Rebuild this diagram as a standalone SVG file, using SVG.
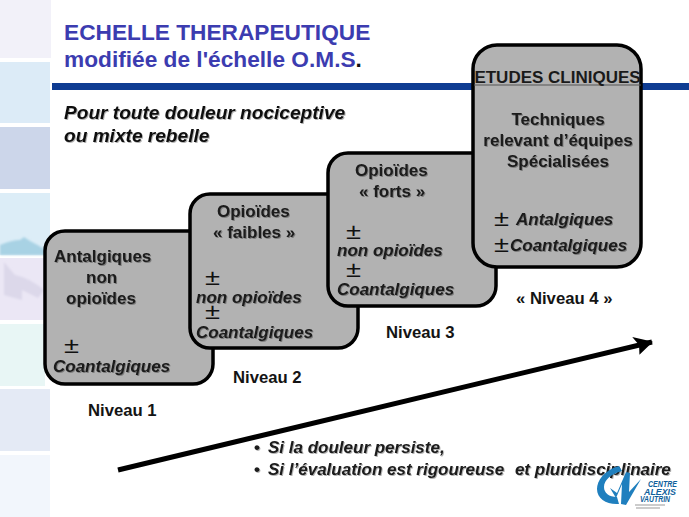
<svg xmlns="http://www.w3.org/2000/svg" width="689" height="517" viewBox="0 0 689 517">
<style>
text{font-family:"Liberation Sans",Arial,sans-serif;font-weight:bold;fill:#1a1a1a}
.box{fill:#b2b2b2;stroke:#000;stroke-width:3.5}
.t{font-size:17px;filter:url(#sh)}
.i{font-size:17px;font-style:italic;filter:url(#sh)}
.n{font-size:16.700px;fill:#141414}
.pm{font-size:22px;font-weight:normal;fill:#111}
.h{fill:#3c3cb0;font-size:22.700px}
.s{font-size:19.100px;font-style:italic;fill:#111;filter:url(#sh)}
.l{font-size:9px;font-style:italic;fill:#0f5f9c}
</style>
<defs>
<filter id="sh" x="-5%" y="-20%" width="110%" height="150%"><feDropShadow dx="1" dy="1" stdDeviation="0.5" flood-color="#000" flood-opacity="0.3"/></filter>
<filter id="blur" x="-10%" y="-10%" width="120%" height="120%"><feGaussianBlur stdDeviation="1"/></filter>
<marker id="ah" viewBox="0 0 10 10" refX="9.500" refY="5" markerWidth="3.800" markerHeight="3.800" orient="auto" markerUnits="strokeWidth" preserveAspectRatio="none"><path d="M0 0L10 5L1.500 10L2.500 5Z" fill="#000"/></marker>
</defs>
<rect width="689" height="517" fill="#fff"/>
<g id="background-strip">
<rect x="0" y="0" width="51" height="58" fill="#f2f1f9"/>
<rect x="0" y="62" width="50" height="61" fill="#dcebf7"/>
<rect x="0" y="127" width="50" height="62" fill="#ccd6ea"/>
<rect x="0" y="193" width="50" height="62" fill="#dcedf7"/>
<path d="M0 245Q12 240 20 240L24 237L30 241Q38 245 46 250L46 255L0 255Z" fill="#a8d2e4" filter="url(#blur)"/>
<rect x="0" y="258" width="45" height="62" fill="#ebe7f5"/>
<path d="M4 262L15 275Q30 278 44 290L38 298L22 290L22 300L4 295Z" fill="#dcd8ea" filter="url(#blur)"/>
<rect x="0" y="324" width="45" height="62" fill="#e8f6f5"/>
<rect x="0" y="389" width="50" height="62" fill="#e4eaf5"/>
<rect x="0" y="455" width="50" height="62" fill="#f2f6fc"/>
</g>
<rect id="title-rule" x="52" y="83" width="637" height="7" fill="#0f3c92"/>
<g id="title">
<text class="h" x="64" y="40">ECHELLE THERAPEUTIQUE</text>
<text class="h" x="64" y="67">modifiée de l'échelle O.M.S<tspan fill="#111">.</tspan></text>
</g>
<g id="subtitle">
<text class="s" x="64" y="119">Pour toute douleur nociceptive</text>
<text class="s" x="64" y="142">ou mixte rebelle</text>
</g>
<g id="connectors">
<line x1="118" y1="470" x2="652" y2="342" stroke="#000" stroke-width="5" marker-end="url(#ah)"/>
</g>
<g id="niveau-1">
<rect class="box" x="45" y="231" width="168" height="153" rx="20"/>
<text class="t" x="54" y="262">Antalgiques</text>
<text class="t" x="86" y="283">non</text>
<text class="t" x="66" y="304">opioïdes</text>
<text class="pm" x="64" y="353" textLength="15" lengthAdjust="spacingAndGlyphs">±</text>
<text class="i" x="53" y="372">Coantalgiques</text>
<text class="n" x="88" y="416">Niveau 1</text>
</g>
<g id="niveau-2">
<rect class="box" x="190" y="194" width="168" height="154" rx="20"/>
<text class="t" x="217" y="217">Opioïdes</text>
<text class="t" x="213" y="238">« faibles »</text>
<text class="pm" x="205" y="285" textLength="15" lengthAdjust="spacingAndGlyphs">±</text>
<text class="i" x="196" y="303">non opioïdes</text>
<text class="pm" x="205" y="319" textLength="15" lengthAdjust="spacingAndGlyphs">±</text>
<text class="i" x="196" y="338">Coantalgiques</text>
<text class="n" x="233" y="383">Niveau 2</text>
</g>
<g id="niveau-3">
<rect class="box" x="328" y="153" width="168" height="153" rx="20"/>
<text class="t" x="355" y="176">Opioïdes</text>
<text class="t" x="359" y="197">« forts »</text>
<text class="pm" x="346" y="239" textLength="15" lengthAdjust="spacingAndGlyphs">±</text>
<text class="i" x="337" y="256">non opioïdes</text>
<text class="pm" x="346" y="277" textLength="15" lengthAdjust="spacingAndGlyphs">±</text>
<text class="i" x="337" y="295">Coantalgiques</text>
<text class="n" x="386" y="338">Niveau 3</text>
</g>
<g id="niveau-4">
<rect class="box" x="473" y="45" width="168" height="222" rx="24"/>
<line x1="474" y1="85" x2="641" y2="85" stroke="#555" stroke-width="1"/>
<text class="t" x="557.500" y="83" text-anchor="middle" style="filter:none">ETUDES CLINIQUES</text>
<text class="t" x="558" y="125" text-anchor="middle">Techniques</text>
<text class="t" x="558" y="146" text-anchor="middle">relevant d’équipes</text>
<text class="t" x="558" y="167" text-anchor="middle">Spécialisées</text>
<text class="pm" x="494" y="226" textLength="15" lengthAdjust="spacingAndGlyphs">±</text>
<text class="i" x="516" y="225">Antalgiques</text>
<text class="pm" x="494" y="252" textLength="15" lengthAdjust="spacingAndGlyphs">±</text>
<text class="i" x="510" y="251">Coantalgiques</text>
<text class="n" x="516" y="304">« Niveau 4 »</text>
</g>
<g id="notes">
<text class="i" x="254" y="453"><tspan font-style="normal">•</tspan><tspan x="268">Si la douleur persiste,</tspan></text>
<text class="i" x="254" y="475"><tspan font-style="normal">•</tspan><tspan x="268">Si l’évaluation est rigoureuse</tspan><tspan dx="6"> et pluridisciplinaire</tspan></text>
</g>
<g id="logo">
<path d="M619 466C604 470 597 481 597 489C597 499 607 505 619 504L617 497C609 497 604 493 604 487C604 480 611 474 622 471Z" fill="#1f7fbe"/>
<path d="M610 488L617 493L626 472L630 473L629 492L641 479L626 505L621 504L622 484L616 498Z" fill="#1f7fbe"/>
<text class="l" x="648" y="487" textLength="29" lengthAdjust="spacingAndGlyphs">CENTRE</text>
<text class="l" x="644" y="494.500" textLength="32" lengthAdjust="spacingAndGlyphs">ALEXIS</text>
<text class="l" x="640" y="502" textLength="30" lengthAdjust="spacingAndGlyphs">VAUTRIN</text>
<path d="M635 505H665M636 508H660" stroke="#9a9a9a" stroke-width="1.200" fill="none"/>
</g>
</svg>
